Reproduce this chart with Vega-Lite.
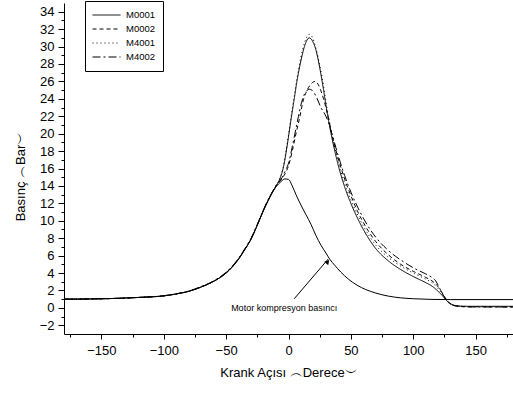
{
  "$schema": "https://vega.github.io/schema/vega-lite/v6.json",
  "width": 449,
  "height": 331,
  "autosize": "none",
  "padding": {"left": 64, "top": 3, "right": 0, "bottom": 60},
  "config": {
    "font": "Liberation Sans",
    "view": {"stroke": null},
    "axis": {
      "domainColor": "black",
      "tickColor": "black",
      "labelColor": "black",
      "titleColor": "black",
      "labelFont": "Liberation Sans",
      "titleFont": "Liberation Sans",
      "titleFontWeight": "normal",
      "labelFontSize": 13,
      "titleFontSize": 13,
      "grid": false
    }
  },
  "datasets": {
    "curves": [
      {"x": -180, "y": 1.0, "s": "M0001"}, {"x": -160, "y": 1.02, "s": "M0001"}, {"x": -140, "y": 1.08, "s": "M0001"}, {"x": -120, "y": 1.2, "s": "M0001"}, {"x": -100, "y": 1.38, "s": "M0001"}, {"x": -90, "y": 1.6, "s": "M0001"}, {"x": -80, "y": 1.9, "s": "M0001"}, {"x": -70, "y": 2.4, "s": "M0001"}, {"x": -60, "y": 3.05, "s": "M0001"}, {"x": -50, "y": 4.0, "s": "M0001"}, {"x": -40, "y": 5.6, "s": "M0001"}, {"x": -35, "y": 6.7, "s": "M0001"}, {"x": -30, "y": 7.9, "s": "M0001"}, {"x": -25, "y": 9.5, "s": "M0001"}, {"x": -20, "y": 11.2, "s": "M0001"}, {"x": -15, "y": 12.7, "s": "M0001"}, {"x": -10, "y": 14.0, "s": "M0001"}, {"x": -7, "y": 14.8, "s": "M0001"}, {"x": -4, "y": 16.2, "s": "M0001"}, {"x": -1, "y": 18.7, "s": "M0001"}, {"x": 2, "y": 21.6, "s": "M0001"}, {"x": 4.5, "y": 23.9, "s": "M0001"}, {"x": 7, "y": 26.2, "s": "M0001"}, {"x": 10, "y": 28.4, "s": "M0001"}, {"x": 13, "y": 30.1, "s": "M0001"}, {"x": 16.6, "y": 31.0, "s": "M0001"}, {"x": 19, "y": 30.7, "s": "M0001"}, {"x": 22, "y": 29.6, "s": "M0001"}, {"x": 25, "y": 27.6, "s": "M0001"}, {"x": 28, "y": 25.1, "s": "M0001"}, {"x": 30, "y": 23.3, "s": "M0001"}, {"x": 32, "y": 21.6, "s": "M0001"}, {"x": 35, "y": 19.4, "s": "M0001"}, {"x": 40, "y": 16.3, "s": "M0001"}, {"x": 45, "y": 13.9, "s": "M0001"}, {"x": 50, "y": 12.0, "s": "M0001"}, {"x": 55, "y": 10.4, "s": "M0001"}, {"x": 60, "y": 9.0, "s": "M0001"}, {"x": 70, "y": 6.8, "s": "M0001"}, {"x": 80, "y": 5.4, "s": "M0001"}, {"x": 90, "y": 4.4, "s": "M0001"}, {"x": 100, "y": 3.6, "s": "M0001"}, {"x": 110, "y": 2.9, "s": "M0001"}, {"x": 115, "y": 2.5, "s": "M0001"}, {"x": 120, "y": 1.9, "s": "M0001"}, {"x": 124, "y": 1.3, "s": "M0001"}, {"x": 127, "y": 0.8, "s": "M0001"}, {"x": 131, "y": 0.4, "s": "M0001"}, {"x": 136, "y": 0.22, "s": "M0001"}, {"x": 145, "y": 0.18, "s": "M0001"}, {"x": 180, "y": 0.18, "s": "M0001"},

      {"x": -180, "y": 1.0, "s": "M0002"}, {"x": -160, "y": 1.02, "s": "M0002"}, {"x": -140, "y": 1.08, "s": "M0002"}, {"x": -120, "y": 1.2, "s": "M0002"}, {"x": -100, "y": 1.38, "s": "M0002"}, {"x": -90, "y": 1.6, "s": "M0002"}, {"x": -80, "y": 1.9, "s": "M0002"}, {"x": -70, "y": 2.4, "s": "M0002"}, {"x": -60, "y": 3.05, "s": "M0002"}, {"x": -50, "y": 4.05, "s": "M0002"}, {"x": -40, "y": 5.65, "s": "M0002"}, {"x": -35, "y": 6.75, "s": "M0002"}, {"x": -30, "y": 7.95, "s": "M0002"}, {"x": -25, "y": 9.55, "s": "M0002"}, {"x": -20, "y": 11.25, "s": "M0002"}, {"x": -15, "y": 12.75, "s": "M0002"}, {"x": -10, "y": 14.0, "s": "M0002"}, {"x": -5, "y": 14.9, "s": "M0002"}, {"x": -2, "y": 15.6, "s": "M0002"}, {"x": 0, "y": 16.3, "s": "M0002"}, {"x": 3, "y": 18.0, "s": "M0002"}, {"x": 6, "y": 20.0, "s": "M0002"}, {"x": 8.6, "y": 21.6, "s": "M0002"}, {"x": 12, "y": 23.9, "s": "M0002"}, {"x": 15, "y": 25.0, "s": "M0002"}, {"x": 18, "y": 25.7, "s": "M0002"}, {"x": 21.5, "y": 26.0, "s": "M0002"}, {"x": 24, "y": 25.6, "s": "M0002"}, {"x": 27, "y": 24.5, "s": "M0002"}, {"x": 30, "y": 23.0, "s": "M0002"}, {"x": 32, "y": 21.8, "s": "M0002"}, {"x": 35, "y": 19.8, "s": "M0002"}, {"x": 40, "y": 17.1, "s": "M0002"}, {"x": 45, "y": 14.8, "s": "M0002"}, {"x": 50, "y": 12.9, "s": "M0002"}, {"x": 55, "y": 11.2, "s": "M0002"}, {"x": 60, "y": 9.8, "s": "M0002"}, {"x": 70, "y": 7.6, "s": "M0002"}, {"x": 80, "y": 6.1, "s": "M0002"}, {"x": 90, "y": 5.0, "s": "M0002"}, {"x": 100, "y": 4.2, "s": "M0002"}, {"x": 110, "y": 3.5, "s": "M0002"}, {"x": 115, "y": 3.1, "s": "M0002"}, {"x": 119, "y": 2.6, "s": "M0002"}, {"x": 122, "y": 2.0, "s": "M0002"}, {"x": 125, "y": 1.3, "s": "M0002"}, {"x": 128, "y": 0.7, "s": "M0002"}, {"x": 132, "y": 0.3, "s": "M0002"}, {"x": 138, "y": 0.15, "s": "M0002"}, {"x": 180, "y": 0.1, "s": "M0002"},

      {"x": -180, "y": 1.0, "s": "M4001"}, {"x": -160, "y": 1.02, "s": "M4001"}, {"x": -140, "y": 1.08, "s": "M4001"}, {"x": -120, "y": 1.2, "s": "M4001"}, {"x": -100, "y": 1.38, "s": "M4001"}, {"x": -90, "y": 1.6, "s": "M4001"}, {"x": -80, "y": 1.9, "s": "M4001"}, {"x": -70, "y": 2.4, "s": "M4001"}, {"x": -60, "y": 3.05, "s": "M4001"}, {"x": -50, "y": 4.0, "s": "M4001"}, {"x": -40, "y": 5.6, "s": "M4001"}, {"x": -35, "y": 6.7, "s": "M4001"}, {"x": -30, "y": 7.9, "s": "M4001"}, {"x": -25, "y": 9.5, "s": "M4001"}, {"x": -20, "y": 11.2, "s": "M4001"}, {"x": -15, "y": 12.7, "s": "M4001"}, {"x": -10, "y": 14.0, "s": "M4001"}, {"x": -7, "y": 14.8, "s": "M4001"}, {"x": -4, "y": 16.3, "s": "M4001"}, {"x": -1, "y": 18.9, "s": "M4001"}, {"x": 2, "y": 21.8, "s": "M4001"}, {"x": 4.5, "y": 24.2, "s": "M4001"}, {"x": 7, "y": 26.5, "s": "M4001"}, {"x": 10, "y": 28.8, "s": "M4001"}, {"x": 13, "y": 30.5, "s": "M4001"}, {"x": 16.6, "y": 31.4, "s": "M4001"}, {"x": 19, "y": 31.1, "s": "M4001"}, {"x": 22, "y": 29.8, "s": "M4001"}, {"x": 25, "y": 27.9, "s": "M4001"}, {"x": 28, "y": 25.6, "s": "M4001"}, {"x": 30, "y": 23.7, "s": "M4001"}, {"x": 32, "y": 22.0, "s": "M4001"}, {"x": 35, "y": 19.8, "s": "M4001"}, {"x": 40, "y": 16.7, "s": "M4001"}, {"x": 45, "y": 14.3, "s": "M4001"}, {"x": 50, "y": 12.4, "s": "M4001"}, {"x": 55, "y": 10.8, "s": "M4001"}, {"x": 60, "y": 9.4, "s": "M4001"}, {"x": 70, "y": 7.2, "s": "M4001"}, {"x": 80, "y": 5.8, "s": "M4001"}, {"x": 90, "y": 4.8, "s": "M4001"}, {"x": 100, "y": 4.0, "s": "M4001"}, {"x": 110, "y": 3.3, "s": "M4001"}, {"x": 115, "y": 2.9, "s": "M4001"}, {"x": 120, "y": 2.2, "s": "M4001"}, {"x": 124, "y": 1.4, "s": "M4001"}, {"x": 127, "y": 0.8, "s": "M4001"}, {"x": 131, "y": 0.35, "s": "M4001"}, {"x": 136, "y": 0.2, "s": "M4001"}, {"x": 145, "y": 0.15, "s": "M4001"}, {"x": 180, "y": 0.15, "s": "M4001"},

      {"x": -180, "y": 1.0, "s": "M4002"}, {"x": -160, "y": 1.02, "s": "M4002"}, {"x": -140, "y": 1.08, "s": "M4002"}, {"x": -120, "y": 1.2, "s": "M4002"}, {"x": -100, "y": 1.4, "s": "M4002"}, {"x": -90, "y": 1.62, "s": "M4002"}, {"x": -80, "y": 1.93, "s": "M4002"}, {"x": -70, "y": 2.45, "s": "M4002"}, {"x": -60, "y": 3.1, "s": "M4002"}, {"x": -50, "y": 4.1, "s": "M4002"}, {"x": -40, "y": 5.7, "s": "M4002"}, {"x": -35, "y": 6.8, "s": "M4002"}, {"x": -30, "y": 8.0, "s": "M4002"}, {"x": -25, "y": 9.6, "s": "M4002"}, {"x": -20, "y": 11.3, "s": "M4002"}, {"x": -15, "y": 12.8, "s": "M4002"}, {"x": -10, "y": 14.0, "s": "M4002"}, {"x": -5, "y": 15.0, "s": "M4002"}, {"x": -2, "y": 15.9, "s": "M4002"}, {"x": 0, "y": 16.6, "s": "M4002"}, {"x": 3, "y": 18.5, "s": "M4002"}, {"x": 6, "y": 20.6, "s": "M4002"}, {"x": 8, "y": 22.0, "s": "M4002"}, {"x": 10.5, "y": 23.6, "s": "M4002"}, {"x": 13, "y": 24.6, "s": "M4002"}, {"x": 17, "y": 25.1, "s": "M4002"}, {"x": 20, "y": 24.8, "s": "M4002"}, {"x": 23, "y": 24.0, "s": "M4002"}, {"x": 26, "y": 23.0, "s": "M4002"}, {"x": 30, "y": 22.0, "s": "M4002"}, {"x": 32, "y": 21.3, "s": "M4002"}, {"x": 35, "y": 19.9, "s": "M4002"}, {"x": 40, "y": 17.4, "s": "M4002"}, {"x": 45, "y": 15.2, "s": "M4002"}, {"x": 50, "y": 13.3, "s": "M4002"}, {"x": 55, "y": 11.7, "s": "M4002"}, {"x": 60, "y": 10.3, "s": "M4002"}, {"x": 70, "y": 8.1, "s": "M4002"}, {"x": 80, "y": 6.6, "s": "M4002"}, {"x": 86, "y": 5.9, "s": "M4002"}, {"x": 90, "y": 5.5, "s": "M4002"}, {"x": 100, "y": 4.6, "s": "M4002"}, {"x": 110, "y": 3.9, "s": "M4002"}, {"x": 115, "y": 3.5, "s": "M4002"}, {"x": 118, "y": 3.1, "s": "M4002"}, {"x": 121, "y": 2.3, "s": "M4002"}, {"x": 124, "y": 1.5, "s": "M4002"}, {"x": 127, "y": 0.8, "s": "M4002"}, {"x": 131, "y": 0.35, "s": "M4002"}, {"x": 136, "y": 0.2, "s": "M4002"}, {"x": 145, "y": 0.1, "s": "M4002"}, {"x": 180, "y": 0.1, "s": "M4002"}
    ],
    "motor": [
      {"x": -180, "y": 1.0}, {"x": -160, "y": 1.02}, {"x": -140, "y": 1.08}, {"x": -120, "y": 1.2}, {"x": -100, "y": 1.38}, {"x": -90, "y": 1.6}, {"x": -80, "y": 1.9}, {"x": -70, "y": 2.4}, {"x": -60, "y": 3.05}, {"x": -50, "y": 4.0}, {"x": -40, "y": 5.6}, {"x": -35, "y": 6.7}, {"x": -30, "y": 7.9}, {"x": -25, "y": 9.5}, {"x": -20, "y": 11.2}, {"x": -15, "y": 12.7}, {"x": -10, "y": 13.9}, {"x": -6, "y": 14.5}, {"x": -3, "y": 14.8}, {"x": 0, "y": 14.75}, {"x": 3, "y": 14.0}, {"x": 6, "y": 13.0}, {"x": 10, "y": 11.8}, {"x": 14, "y": 10.7}, {"x": 18, "y": 9.6}, {"x": 22, "y": 8.3}, {"x": 26, "y": 7.2}, {"x": 30, "y": 6.3}, {"x": 33, "y": 5.6}, {"x": 37, "y": 4.9}, {"x": 42, "y": 4.1}, {"x": 48, "y": 3.3}, {"x": 55, "y": 2.6}, {"x": 62, "y": 2.1}, {"x": 70, "y": 1.7}, {"x": 80, "y": 1.35}, {"x": 90, "y": 1.15}, {"x": 100, "y": 1.05}, {"x": 115, "y": 0.97}, {"x": 130, "y": 0.95}, {"x": 180, "y": 0.95}
    ],
    "note": [{"x": -46, "y": 0.0, "label": "Motor kompresyon basıncı"}],
    "arrow": [{"x": 4.6, "y": 1.05, "x2": 31.8, "y2": 5.6}],
    "head": [{"x": 31.4, "y": 5.3}],
    "minor": [
      {"x": -175, "y": -3}, {"x": -125, "y": -1}, {"x": -75, "y": 1}, {"x": -25, "y": 3}, {"x": 25, "y": 5}, {"x": 75, "y": 7}, {"x": 125, "y": 9}, {"x": 175, "y": 11}
    ]
  },
  "layer": [
    {
      "data": {"name": "minor"},
      "mark": {"type": "point", "opacity": 0},
      "encoding": {
        "x": {"field": "x", "type": "quantitative", "scale": {"domain": [-180, 180], "nice": false, "zero": false},
              "axis": {"orient": "bottom", "values": [-175, -125, -75, -25, 25, 75, 125, 175], "labels": false, "domain": false, "tickSize": 3, "title": null}},
        "y": {"field": "y", "type": "quantitative", "scale": {"domain": [-3, 35], "nice": false, "zero": false},
              "axis": {"orient": "left", "values": [-1, 1, 3, 5, 7, 9, 11, 13, 15, 17, 19, 21, 23, 25, 27, 29, 31, 33], "labels": false, "domain": false, "tickSize": 3, "title": null}}
      }
    },
    {
      "data": {"name": "curves"},
      "mark": {"type": "line", "color": "black", "strokeWidth": 1, "clip": true, "interpolate": "monotone"},
      "encoding": {
        "x": {"field": "x", "type": "quantitative", "scale": {"domain": [-180, 180], "nice": false, "zero": false},
              "axis": {"orient": "bottom", "values": [-150, -100, -50, 0, 50, 100, 150], "tickSize": 5, "labelPadding": 5, "title": "Krank Açısı ︵Derece︶", "titlePadding": 9}},
        "y": {"field": "y", "type": "quantitative", "scale": {"domain": [-3, 35], "nice": false, "zero": false},
              "axis": {"orient": "left", "values": [-2, 0, 2, 4, 6, 8, 10, 12, 14, 16, 18, 20, 22, 24, 26, 28, 30, 32, 34], "tickSize": 6, "labelPadding": 4, "title": "Basınç ︵Bar︶", "titlePadding": 12, "titleY": 173}},
        "strokeDash": {
          "field": "s", "type": "nominal",
          "scale": {"domain": ["M0001", "M0002", "M4001", "M4002"], "range": [[1, 0], [4, 3], [1, 3], [8, 3, 2, 3]]},
          "legend": {
            "title": null, "orient": "none", "legendX": 21, "legendY": -2,
            "strokeColor": "black", "fillColor": "white", "padding": 7,
            "symbolType": "stroke", "symbolSize": 784, "symbolStrokeColor": "black", "symbolStrokeWidth": 1,
            "labelFont": "Liberation Sans", "labelFontSize": 9.5, "labelColor": "black", "labelOffset": 5,
            "clipHeight": 14, "rowPadding": 0
          }
        }
      }
    },
    {
      "data": {"name": "motor"},
      "mark": {"type": "line", "color": "black", "strokeWidth": 1, "clip": true, "interpolate": "monotone"},
      "encoding": {"x": {"field": "x", "type": "quantitative", "axis": null}, "y": {"field": "y", "type": "quantitative", "axis": null}}
    },
    {
      "data": {"name": "arrow"},
      "mark": {"type": "rule", "color": "black", "strokeWidth": 1},
      "encoding": {"x": {"field": "x", "type": "quantitative", "axis": null}, "y": {"field": "y", "type": "quantitative", "axis": null}, "x2": {"field": "x2"}, "y2": {"field": "y2"}}
    },
    {
      "data": {"name": "head"},
      "mark": {"type": "point", "shape": "triangle-up", "filled": true, "color": "black", "size": 28, "angle": 40, "opacity": 1},
      "encoding": {"x": {"field": "x", "type": "quantitative", "axis": null}, "y": {"field": "y", "type": "quantitative", "axis": null}}
    },
    {
      "data": {"name": "note"},
      "mark": {"type": "text", "align": "left", "baseline": "middle", "fontSize": 9, "font": "Liberation Sans", "color": "black"},
      "encoding": {"x": {"field": "x", "type": "quantitative", "axis": null}, "y": {"field": "y", "type": "quantitative", "axis": null}, "text": {"field": "label"}}
    }
  ],
  "resolve": {"axis": {"x": "independent", "y": "independent"}}
}
